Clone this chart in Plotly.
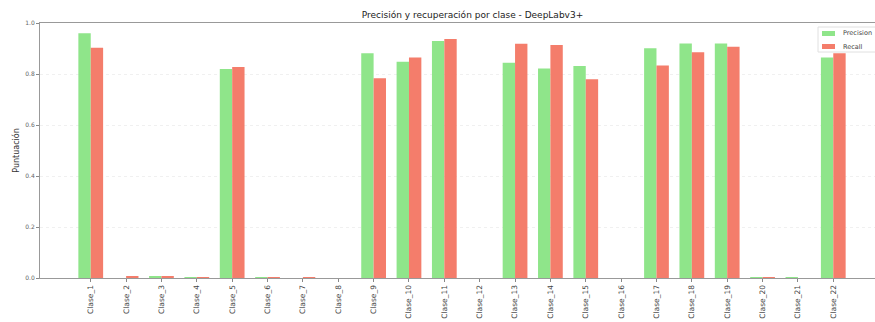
import plotly.graph_objects as go

# Per-class scores for the DeepLabv3+ model
clases = [f"Clase_{i}" for i in range(1, 23)]
precision = [0.960, 0.000, 0.005, 0.002, 0.820, 0.001, 0.000, 0.000, 0.881, 0.848, 0.929,
             0.000, 0.844, 0.822, 0.831, 0.000, 0.901, 0.920, 0.920, 0.003, 0.002, 0.865]
recall = [0.903, 0.006, 0.004, 0.003, 0.827, 0.003, 0.001, 0.000, 0.783, 0.865, 0.937,
          0.000, 0.919, 0.914, 0.779, 0.000, 0.833, 0.885, 0.907, 0.003, 0.000, 0.881]
y_ticks = [0.0, 0.2, 0.4, 0.6, 0.8, 1.0]
series_names = ["Precision", "Recall"]
series_colors = ["#8fe58a", "#f47d6b"]

W, H = 875, 322
M_L, M_R, M_T, M_B = 40, 0, 23, 44
PW, PH = W - M_L - M_R, H - M_T - M_B


def px_x(px):
    return (px - M_L) / PW


def px_y(py):
    return 1 - (py - M_T) / PH


fig = go.Figure()
for name, vals, col in zip(series_names, [precision, recall], series_colors):
    fig.add_trace(go.Bar(x=clases, y=vals, name=name,
                         marker=dict(color=col, line=dict(width=0))))

# compact legend box in the upper-right corner
shapes = [dict(type="rect", xref="paper", yref="paper",
               x0=px_x(818), x1=px_x(890), y0=px_y(52), y1=px_y(27),
               fillcolor="rgba(255,255,255,0.9)", line=dict(color="#e0e0e0", width=1))]
annotations = []
for i, (name, col) in enumerate(zip(series_names, series_colors)):
    cy = 33.5 + 13 * i
    shapes.append(dict(type="rect", xref="paper", yref="paper",
                       x0=px_x(822), x1=px_x(835), y0=px_y(cy + 2.5), y1=px_y(cy - 2.5),
                       fillcolor=col, line=dict(width=0)))
    annotations.append(dict(xref="paper", yref="paper", x=px_x(841), y=px_y(cy),
                            xanchor="left", yanchor="middle", showarrow=False,
                            text=name, font=dict(size=6.5, color="#444")))

fig.update_layout(
    width=W, height=H,
    margin=dict(l=M_L, r=M_R, t=M_T, b=M_B),
    paper_bgcolor="white", plot_bgcolor="white",
    barmode="group", bargap=0.3, bargroupgap=0.0,
    font=dict(family="DejaVu Sans", color="#444"),
    title=dict(text="Precisión y recuperación por clase - DeepLabv3+",
               x=0.54, xanchor="center", y=0.955, yanchor="middle",
               font=dict(size=9, color="#222")),
    showlegend=False,
    shapes=shapes,
    annotations=annotations,
)
fig.update_xaxes(
    type="category", range=[-1.435, 22.18],
    tickangle=-90, tickfont=dict(size=7.5, color="#444"),
    ticks="outside", ticklen=3, tickcolor="#888",
    showline=True, linecolor="#999", linewidth=1, mirror=True,
    showgrid=False, zeroline=False,
)
fig.update_yaxes(
    range=[0, 1.0], tickvals=y_ticks, ticktext=[f"{v:.1f}" for v in y_ticks],
    tickfont=dict(size=6, color="#666"),
    ticks="outside", ticklen=3, tickcolor="#888",
    showline=True, linecolor="#999", linewidth=1,
    showgrid=True, gridcolor="#f0f0f0", griddash="dot", gridwidth=1,
    zeroline=False,
    title=dict(text="Puntuación", font=dict(size=8, color="#333"), standoff=4),
)

fig.write_html("out.html")
